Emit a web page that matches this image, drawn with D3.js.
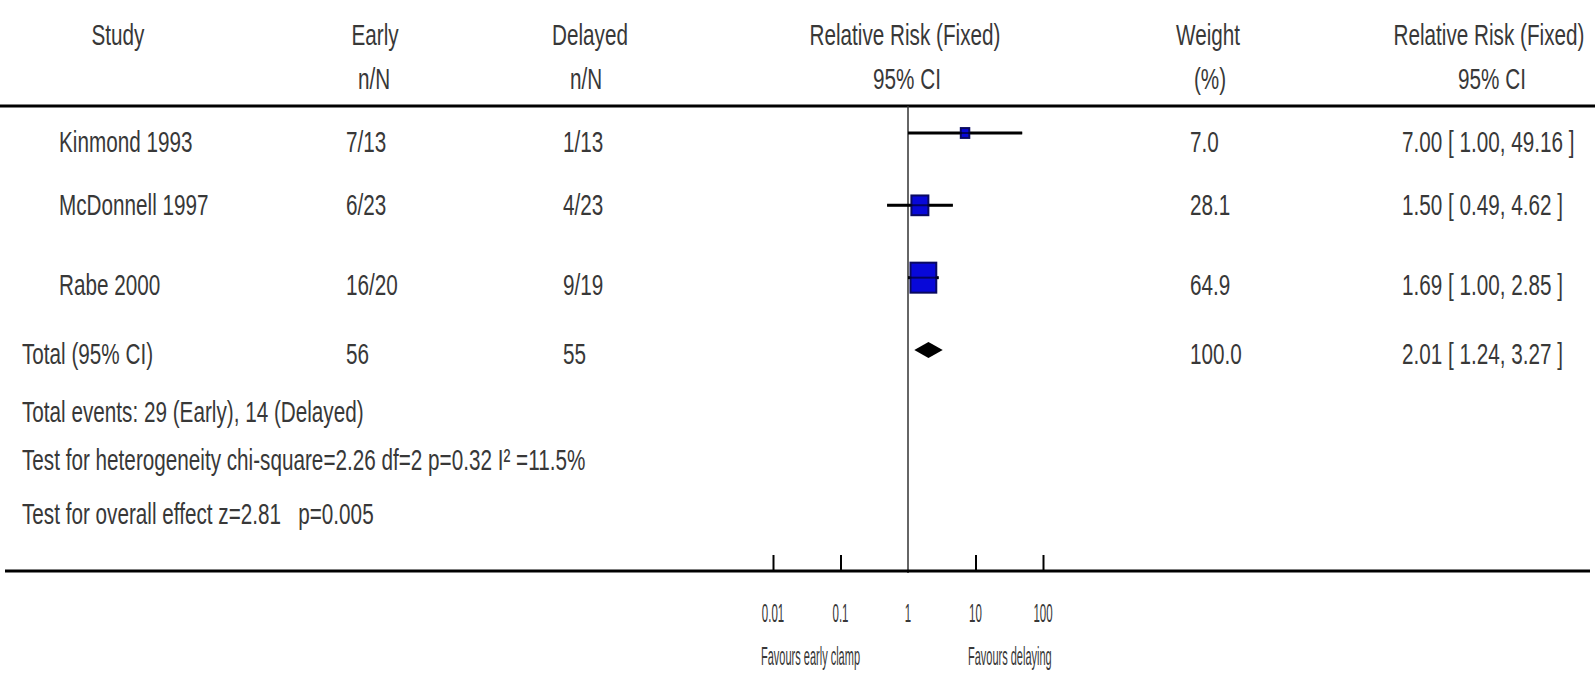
<!DOCTYPE html>
<html>
<head>
<meta charset="utf-8">
<script src="https://cdn.jsdelivr.net/npm/d3@7/dist/d3.min.js"></script>
<style>
  html, body { margin: 0; padding: 0; background: #fff; }
  svg { display: block; }
  text { font-family: "Liberation Sans", Arial, sans-serif; fill: #383838; white-space: pre; }
</style>
</head>
<body>
<svg id="chart" width="1595" height="674"></svg>
<script>
// Trials in the meta-analysis
const studies = ["Kinmond 1993", "McDonnell 1997", "Rabe 2000"];
const earlyEvents = [7, 6, 16];
const earlyTotal = [13, 23, 20];
const delayedEvents = [1, 4, 9];
const delayedTotal = [13, 23, 19];
const rr = [7.00, 1.50, 1.69];
const ciLow = [1.00, 0.49, 1.00];
const ciHigh = [49.16, 4.62, 2.85];
const weights = [7.0, 28.1, 64.9];

// Pooled estimate
const pooled = { rr: 2.01, lo: 1.24, hi: 3.27, weight: 100.0 };

// Footnotes under the table
const footnotes = [
  "Total events: 29 (Early), 14 (Delayed)",
  "Test for heterogeneity chi-square=2.26 df=2 p=0.32 I\u00B2 =11.5%",
  "Test for overall effect z=2.81   p=0.005"
];

// Axis
const axisTicks = [0.01, 0.1, 1, 10, 100];
const axisTickLabels = ["0.01", "0.1", "1", "10", "100"];
const favoursLeft = "Favours early clamp";
const favoursRight = "Favours delaying";

const svg = d3.select("#chart");
const FS = 30, SX = 0.69;   // condensed table font

function label(g, str, x, y, anchor, size, sx) {
  return g.append("text")
    .attr("transform", `translate(${x},${y}) scale(${sx || SX},1)`)
    .attr("text-anchor", anchor || "start")
    .attr("font-size", size || FS)
    .text(str);
}

// Log scale for the relative risk
const x = d3.scaleLog().domain([0.01, 100]).range([773, 1043]);

// Row positions for the marks
const yRow = d3.scaleLinear().domain([0, 3]).range([133, 350]);
// Text baselines for each table row
const textBase = [152, 215, 295, 364];
const footBase = [422, 470, 524];

// Column headers
const head = svg.append("g");
label(head, "Study", 118, 45, "middle");
label(head, "Early", 375, 45, "middle");
label(head, "n/N", 374, 89, "middle");
label(head, "Delayed", 590, 45, "middle");
label(head, "n/N", 586, 89, "middle");
label(head, "Relative Risk (Fixed)", 905, 45, "middle");
label(head, "95% CI", 907, 89, "middle");
label(head, "Weight", 1208, 45, "middle");
label(head, "(%)", 1210, 89, "middle");
label(head, "Relative Risk (Fixed)", 1489, 45, "middle");
label(head, "95% CI", 1492, 89, "middle");

// Header rule
svg.append("line")
  .attr("x1", 0).attr("x2", 1595).attr("y1", 106).attr("y2", 106)
  .attr("stroke", "#000").attr("stroke-width", 3);

// Line of no effect
svg.append("line")
  .attr("x1", x(1)).attr("x2", x(1)).attr("y1", 106).attr("y2", 573)
  .attr("stroke", "#333").attr("stroke-width", 1.5);

// Study rows
const f2 = d3.format(".2f"), f1 = d3.format(".1f");
const rows = svg.append("g");
studies.forEach((s, i) => {
  const yb = textBase[i];
  label(rows, s, 59, yb);
  label(rows, `${earlyEvents[i]}/${earlyTotal[i]}`, 346, yb);
  label(rows, `${delayedEvents[i]}/${delayedTotal[i]}`, 563, yb);
  label(rows, f1(weights[i]), 1190, yb);
  label(rows, `${f2(rr[i])} [ ${f2(ciLow[i])}, ${f2(ciHigh[i])} ]`, 1402, yb);
});

// Total row
const nEarly = d3.sum(earlyTotal), nDelayed = d3.sum(delayedTotal);
label(rows, "Total (95% CI)", 22, textBase[3]);
label(rows, String(nEarly), 346, textBase[3]);
label(rows, String(nDelayed), 563, textBase[3]);
label(rows, f1(pooled.weight), 1190, textBase[3]);
label(rows, `${f2(pooled.rr)} [ ${f2(pooled.lo)}, ${f2(pooled.hi)} ]`, 1402, textBase[3]);

// Footnotes
footnotes.forEach((t, i) => label(rows, t, 22, footBase[i]));

// Confidence intervals
const marks = svg.append("g");
marks.selectAll("line.ci").data(studies).join("line")
  .attr("class", "ci")
  .attr("x1", (d, i) => x(ciLow[i])).attr("x2", (d, i) => x(ciHigh[i]))
  .attr("y1", (d, i) => yRow(i)).attr("y2", (d, i) => yRow(i))
  .attr("stroke", "#000").attr("stroke-width", 3);

// Weighted squares (area proportional to weight)
const side = d3.scaleSqrt().domain([0, d3.max(weights)]).range([0, 30]);
marks.selectAll("rect.box").data(studies).join("rect")
  .attr("class", "box")
  .attr("x", (d, i) => x(rr[i]) - side(weights[i]) * 0.43)
  .attr("y", (d, i) => yRow(i) - side(weights[i]) / 2)
  .attr("width", (d, i) => side(weights[i]) * 0.86)
  .attr("height", (d, i) => side(weights[i]))
  .attr("fill", "#0808d8").attr("stroke", "#0a0a60").attr("stroke-width", 2);

// Redraw CI through squares
marks.selectAll("line.ci2").data(studies).join("line")
  .attr("class", "ci2")
  .attr("x1", (d, i) => x(ciLow[i])).attr("x2", (d, i) => x(ciHigh[i]))
  .attr("y1", (d, i) => yRow(i)).attr("y2", (d, i) => yRow(i))
  .attr("stroke", "#000").attr("stroke-width", 2).attr("stroke-opacity", 0.55);

// Pooled diamond
const yd = yRow(3);
marks.append("path")
  .attr("d", `M${x(pooled.lo)},${yd} L${x(pooled.rr)},${yd - 8} L${x(pooled.hi)},${yd} L${x(pooled.rr)},${yd + 8} Z`)
  .attr("fill", "#000");

// Bottom axis
const axisY = 571;
svg.append("line")
  .attr("x1", 5).attr("x2", 1590).attr("y1", axisY).attr("y2", axisY)
  .attr("stroke", "#000").attr("stroke-width", 3);

const axisG = svg.append("g").attr("transform", `translate(0,${axisY})`);
axisG.call(d3.axisTop(x).tickValues(axisTicks.filter(t => t !== 1))
  .tickSize(16).tickFormat(""));
axisG.select(".domain").remove();
axisG.selectAll(".tick line").attr("stroke", "#000").attr("stroke-width", 2);

axisTicks.forEach((t, i) => label(svg, axisTickLabels[i], x(t), 622, "middle", 25, 0.46));

label(svg, favoursLeft, x(1) - 48, 665, "end", 25, 0.44);
label(svg, favoursRight, x(1) + 60, 665, "start", 25, 0.44);
</script>
</body>
</html>
